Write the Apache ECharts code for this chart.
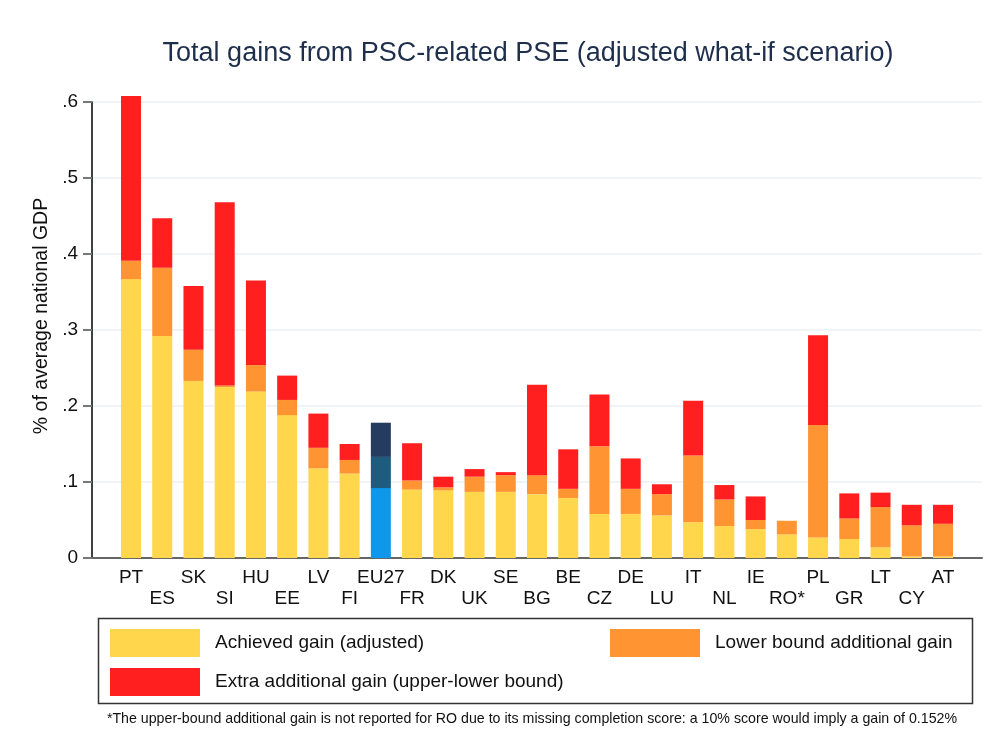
<!DOCTYPE html>
<html>
<head>
<meta charset="utf-8">
<script src="https://cdn.jsdelivr.net/npm/echarts@6/dist/echarts.min.js"></script>
<style>
html,body{margin:0;padding:0;background:#fff;}
#chart{width:993px;height:733px;}
</style>
</head>
<body>
<div id="chart"></div>
<script>
var categories = ['PT','ES','SK','SI','HU','EE','LV','FI','EU27','FR','DK','UK','SE','BG','BE','CZ','DE','LU','IT','NL','IE','RO*','PL','GR','LT','CY','AT'];
var achievedGain = [0.367,0.292,0.233,0.225,0.219,0.188,0.118,0.111,0.092,0.090,0.089,0.087,0.087,0.084,0.079,0.058,0.058,0.056,0.047,0.042,0.038,0.031,0.027,0.025,0.014,0.002,0.002];
var lowerBoundGain = [0.024,0.090,0.041,0.002,0.035,0.020,0.027,0.018,0.041,0.012,0.004,0.020,0.022,0.025,0.012,0.089,0.033,0.028,0.088,0.035,0.012,0.018,0.148,0.027,0.053,0.041,0.043];
var extraGain = [0.217,0.065,0.084,0.241,0.111,0.032,0.045,0.021,0.045,0.049,0.014,0.010,0.004,0.119,0.052,0.068,0.040,0.013,0.072,0.019,0.031,null,0.118,0.033,0.019,0.027,0.025];
var yTickLabels = ['0','.1','.2','.3','.4','.5','.6'];
var seriesNames = ['Achieved gain (adjusted)','Lower bound additional gain','Extra additional gain (upper-lower bound)'];
var titleText = 'Total gains from PSC-related PSE (adjusted what-if scenario)';
var footnoteText = '*The upper-bound additional gain is not reported for RO due to its missing completion score: a 10% score would imply a gain of 0.152%';

var colors = ['#ffd64c','#ff9433','#ff1f1f'];
var euColors = ['#0d98ec','#1d5c7e','#253c60'];
var FONT = 'Liberation Sans, Arial, Helvetica, sans-serif';

function build(values, k){
  return values.map(function(v, i){
    if (categories[i] === 'EU27') {
      return {value: v, itemStyle: {color: euColors[k]}};
    }
    return v;
  });
}

var chart = echarts.init(document.getElementById('chart'), null, {renderer:'canvas'});
var legendText = {fontFamily: FONT, fontSize: 19, color: '#111', padding: [0,0,0,10]};
var option = {
  animation: false,
  backgroundColor: '#fff',
  title: {
    text: titleText,
    left: 523, top: 35, textAlign: 'center',
    textStyle: {fontFamily: FONT, fontSize: 27, fontWeight: 'normal', color: '#1e2f4c'}
  },
  grid: [
    {left: 92, right: 11, top: 102, bottom: 175, containLabel: false},
    {left: 115.4, right: 34.4, top: 102, bottom: 175, containLabel: false}
  ],
  xAxis: [
    {gridIndex: 0, type: 'value', min: 0, max: 1, show: true,
     axisLine: {show: true, onZero: false, lineStyle: {color: '#666', width: 2}},
     axisTick: {show: false}, axisLabel: {show: false}, splitLine: {show: false}},
    {gridIndex: 1, type: 'category', data: categories,
     axisLine: {show: false}, axisTick: {show: false}, splitLine: {show: false},
     axisLabel: {interval: 0, margin: 9, fontFamily: FONT, fontSize: 19, color: '#111', lineHeight: 21,
       formatter: function(v){ var i = categories.indexOf(v); return (i % 2 === 1) ? '\n' + v : v; }}}
  ],
  yAxis: [
    {gridIndex: 0, type: 'value', min: 0, max: 0.6, interval: 0.1,
     name: '% of average national GDP', nameLocation: 'middle', nameGap: 38,
     nameTextStyle: {fontFamily: FONT, fontSize: 19.5, color: '#111', padding: [0,0,0,28]},
     axisLine: {show: true, lineStyle: {color: '#000', width: 1.5}},
     axisTick: {show: true, length: 9, lineStyle: {color: '#777', width: 2}},
     axisLabel: {margin: 14, fontFamily: FONT, fontSize: 19, color: '#111',
       formatter: function(v){ var i = Math.round(v*10); return yTickLabels[i] !== undefined ? yTickLabels[i] : ''; }},
     splitLine: {show: true, lineStyle: {color: '#eaf1f3', width: 1.5}}},
    {gridIndex: 1, type: 'value', min: 0, max: 0.6, interval: 0.1, show: false,
     splitLine: {show: false}}
  ],
  legend: [
    {left: 110, top: 629, padding: 0, itemWidth: 90, itemHeight: 28, icon: 'rect',
     textStyle: legendText, data: [seriesNames[0]]},
    {left: 610, top: 629, padding: 0, itemWidth: 90, itemHeight: 28, icon: 'rect',
     textStyle: legendText, data: [seriesNames[1]]},
    {left: 110, top: 668, padding: 0, itemWidth: 90, itemHeight: 28, icon: 'rect',
     textStyle: legendText, data: [seriesNames[2]]}
  ],
  graphic: [
    {type: 'rect', shape: {x: 98.5, y: 618.5, width: 874, height: 85},
     style: {fill: 'none', stroke: '#333', lineWidth: 1.5}, silent: true},
    {type: 'text', x: 532, y: 719,
     style: {text: footnoteText, fontFamily: FONT, fontSize: 14.2, fill: '#111', textAlign: 'center', textVerticalAlign: 'middle'}}
  ],
  series: [
    {name: seriesNames[0], type: 'bar', stack: 'g', xAxisIndex: 1, yAxisIndex: 1, barWidth: 20, clip: false,
     itemStyle: {color: colors[0]}, data: build(achievedGain, 0)},
    {name: seriesNames[1], type: 'bar', stack: 'g', xAxisIndex: 1, yAxisIndex: 1, barWidth: 20, clip: false,
     itemStyle: {color: colors[1]}, data: build(lowerBoundGain, 1)},
    {name: seriesNames[2], type: 'bar', stack: 'g', xAxisIndex: 1, yAxisIndex: 1, barWidth: 20, clip: false,
     itemStyle: {color: colors[2]}, data: build(extraGain, 2)}
  ]
};
chart.setOption(option);
</script>
</body>
</html>
